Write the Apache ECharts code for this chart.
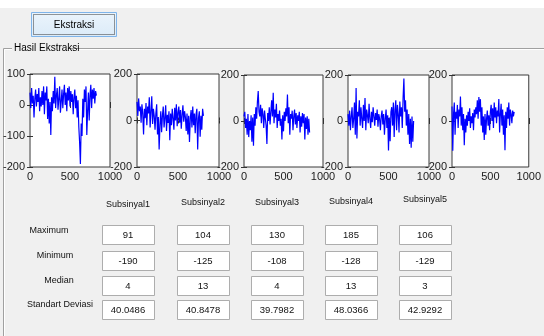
<!DOCTYPE html>
<html><head><meta charset="utf-8">
<script src="https://cdn.jsdelivr.net/npm/echarts@6/dist/echarts.min.js"></script>
<style>html,body{margin:0;padding:0;background:#f0f0f0}#c{width:544px;height:336px}</style>
</head><body><div id="c"></div>
<script>
// ---- data ----
var xStep = 10;
var sub1 = [40,-10,55,5,30,-40,20,50,-5,35, 10,55,-20,25,-5,45,0,60,-30,40, 15,60,-45,20,-60,10,-97,25,-20,45,
  5,91,-10,30,55,-15,20,60,-25,10, 50,-10,35,65,0,40,-20,55,15,60, -5,45,10,35,-30,25,50,-10,30,-40,
  15,-70,-120,-190,-60,-100,20,-40,50,10, 60,-97,-20,40,-50,30,65,-10,50,20, 55,5,45,30];
var sub2 = [80,20,95,40,60,-10,70,30,-60,50, 10,75,-20,60,30,100,-30,40,104,-15, 50,20,-40,30,70,-60,15,-125,-20,40,
  -50,20,60,-30,10,65,-45,25,-10,40, -85,30,-20,50,10,-40,55,0,70,-25, 35,60,-10,45,-35,25,65,-5,40,15,
  -45,30,-60,20,-92,10,45,-30,60,-20, 30,-55,25,50,-125,10,40,-70,20,-40, 50,20];
var sub3 = [20,40,-30,10,-60,30,-70,0,-40,25, -90,15,-108,30,-20,60,10,85,130,40, 20,70,-10,55,30,-30,45,10,-20,-100,
  35,0,60,-15,40,90,20,123,-10,50, 15,75,-30,30,0,45,-20,10,-80,25, -45,40,0,55,20,115,-10,60,-60,30,
  10,45,-40,20,50,-15,35,-30,25,0, 40,-50,20,-25,35,-10,30,-80,15,-35, 20,-60,10,-50];
var sub4 = [30,-20,45,-40,20,60,-30,10,80,-60, 143,-76,40,20,90,-20,60,10,-30,70, 0,100,-40,50,25,-10,75,10,-30,40,
  -5,60,20,-20,35,5,50,-25,30,10, -40,20,45,-15,30,-60,10,50,-30,25, -128,15,-88,40,60,-20,80,-70,50,90,
  -40,70,30,-50,85,20,60,-30,100,185, 40,90,-20,50,-60,30,-100,10,-116,20, -90,0];
var sub5 = [63,-129,30,80,-60,40,10,70,-30,50, 20,106,-20,60,-40,30,-105,10,-50,25, -20,40,0,55,-30,20,-10,35,-40,50,
  15,60,30,90,10,104,40,95,-20,60, -50,20,-83,30,-60,10,45,-20,25,-40, 40,70,0,55,-30,80,15,60,-10,45,
  20,96,-50,30,75,-20,50,-60,25,-127, 40,-30,60,10,80,-20,50,30,-10,45, 20,40];
var seriesList = [sub1, sub2, sub3, sub4, sub5];
var colNames = ['Subsinyal1','Subsinyal2','Subsinyal3','Subsinyal4','Subsinyal5'];
var rowNames = ['Maximum','Minimum','Median','Standart Deviasi'];
var maxVals = ['91','104','130','185','106'];
var minVals = ['-190','-125','-108','-128','-129'];
var medVals = ['4','13','4','13','3'];
var stdVals = ['40.0486','40.8478','39.7982','48.0366','42.9292'];
var yMins = [-200,-200,-200,-200,-200];
var yMaxs = [100,200,200,200,200];
var yIntervals = [100,200,200,200,200];
var xTicks = {min:0, max:1000, interval:500};

// ---- layout ----
var grids = [
  {left:29, top:74, width:81, height:93},
  {left:137, top:74, width:82, height:93},
  {left:244, top:75, width:79, height:92},
  {left:348, top:75, width:81, height:92},
  {left:452, top:75, width:80, height:92}
];
var colCenters = [128,203,277,351,425];
var headerY = [205,203,203,202,200];
var boxLefts = [102,177,251,325,399];
var rowBoxTops = [225,251,276,300];
var rowLabelCenters = [[49,231],[55,256],[59,281],[60,305]];
var font = '"Liberation Sans", Arial, sans-serif';
function plain(v){ return String(v); }

var option = {
  backgroundColor:'#f0f0f0',
  animation:false,
  grid:[], xAxis:[], yAxis:[], series:[], graphic:[]
};
grids.forEach(function(g,i){
  option.grid.push({left:g.left, top:g.top, width:g.width, height:g.height, show:true,
    backgroundColor:'#ffffff', borderColor:'#3a3a3a', borderWidth:1, containLabel:false});
  var lbl = {color:'#1a1a1a', fontSize:11, fontFamily:font, margin:5, formatter:plain};
  option.xAxis.push({type:'value', gridIndex:i, min:xTicks.min, max:xTicks.max, interval:xTicks.interval,
    axisLine:{show:false}, splitLine:{show:false}, axisTick:{inside:true, length:3, lineStyle:{color:'#333'}},
    axisLabel:Object.assign({}, lbl, {margin:4})});
  option.xAxis.push({type:'value', gridIndex:i, position:'top', min:xTicks.min, max:xTicks.max, interval:xTicks.interval,
    axisLine:{show:false}, splitLine:{show:false}, axisTick:{inside:true, length:3, lineStyle:{color:'#333'}},
    axisLabel:{show:false}});
  option.yAxis.push({type:'value', gridIndex:i, min:yMins[i], max:yMaxs[i], interval:yIntervals[i],
    axisLine:{show:false}, splitLine:{show:false}, axisTick:{inside:true, length:3, lineStyle:{color:'#333'}},
    axisLabel:lbl});
  option.yAxis.push({type:'value', gridIndex:i, position:'right', min:yMins[i], max:yMaxs[i], interval:yIntervals[i],
    axisLine:{show:false}, splitLine:{show:false}, axisTick:{inside:true, length:3, lineStyle:{color:'#333'}},
    axisLabel:{show:false}});
  var arr = seriesList[i];
  option.series.push({type:'line', xAxisIndex:2*i, yAxisIndex:2*i, showSymbol:false, symbol:'none',
    data: arr.map(function(v,k){return [k*xStep, v];}),
    lineStyle:{color:'#0000ff', width:1.2}, silent:true});
});

var G = option.graphic;
// top white strip
G.push({type:'rect', shape:{x:0,y:0,width:544,height:8}, style:{fill:'#ffffff'}, silent:true});
// button
G.push({type:'rect', shape:{x:31.5,y:12.5,width:85,height:24}, style:{fill:{type:'linear',x:0,y:0,x2:0,y2:1,
  colorStops:[{offset:0,color:'#eaf4fc'},{offset:1,color:'#dcebf8'}]}, stroke:'#7eb4ea', lineWidth:1}});
G.push({type:'rect', shape:{x:33.5,y:14.5,width:81,height:20}, style:{fill:'none', stroke:'#333', lineWidth:1, lineDash:[1,1]}});
G.push({type:'text', x:74, y:25, style:{text:'Ekstraksi', fontSize:10, fontFamily:font, fill:'#000', align:'center', verticalAlign:'middle'}});
// panel border
G.push({type:'polyline', shape:{points:[[12,48.5],[3.5,48.5],[3.5,336]]}, style:{stroke:'#a0a0a0', lineWidth:1, fill:'none'}});
G.push({type:'polyline', shape:{points:[[12,49.5],[4.5,49.5],[4.5,336]]}, style:{stroke:'#ffffff', lineWidth:1, fill:'none'}});
G.push({type:'line', shape:{x1:68,y1:48.5,x2:544,y2:48.5}, style:{stroke:'#a0a0a0', lineWidth:1}});
G.push({type:'line', shape:{x1:68,y1:49.5,x2:544,y2:49.5}, style:{stroke:'#ffffff', lineWidth:1}});
G.push({type:'text', x:14, y:48, style:{text:'Hasil Ekstraksi', fontSize:10, fontFamily:font, fill:'#000', verticalAlign:'middle'}});
// table headers
colNames.forEach(function(n,i){
  G.push({type:'text', x:colCenters[i], y:headerY[i], style:{text:n, fontSize:9, fontFamily:font, fill:'#111', align:'center', verticalAlign:'middle'}});
});
rowNames.forEach(function(n,r){
  G.push({type:'text', x:rowLabelCenters[r][0], y:rowLabelCenters[r][1], style:{text:n, fontSize:9, fontFamily:font, fill:'#111', align:'center', verticalAlign:'middle'}});
});
var rows = [maxVals, minVals, medVals, stdVals];
rows.forEach(function(vals,r){
  vals.forEach(function(v,c){
    G.push({type:'rect', shape:{x:boxLefts[c]+0.5, y:rowBoxTops[r]+0.5, width:52, height:19},
      style:{fill:'#ffffff', stroke:'#adadad', lineWidth:1}});
    G.push({type:'text', x:boxLefts[c]+26, y:rowBoxTops[r]+10.5, style:{text:v, fontSize:9.5, fontFamily:font, fill:'#111', align:'center', verticalAlign:'middle'}});
  });
});

echarts.init(document.getElementById('c'), null, {renderer:'canvas'}).setOption(option);
</script></body></html>
